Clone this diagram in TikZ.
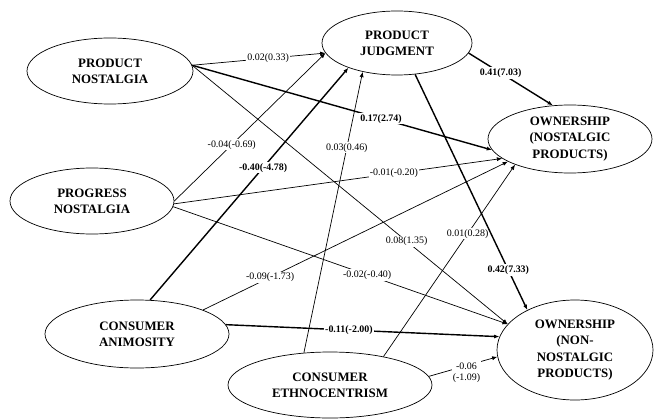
\documentclass[tikz,border=0pt]{standalone}
\usepackage{fontspec}
\setmainfont{Liberation Serif}
\usetikzlibrary{arrows.meta, positioning, shapes.geometric}

\begin{document}
\begin{tikzpicture}[x=0.3mm, y=-0.3mm,
    latent/.style={draw, ellipse, inner sep=0pt, align=center, line width=0.6pt,
      font=\bfseries\fontsize{11}{14}\selectfont},
    link/.style={-{Latex[length=4.5pt,width=3.5pt]}, line width=0.6pt},
    strong/.style={link, line width=1.2pt},
    coef/.style={fill=white, inner sep=1pt, font=\fontsize{8.5}{10}\selectfont},
    bcoef/.style={coef, font=\bfseries\fontsize{8.5}{10}\selectfont}]
  \useasboundingbox (0,0) rectangle (654,418);

  % constructs
  \node[latent, minimum width=49.8mm, minimum height=19.8mm] (pn) at (110,71) {PRODUCT\\NOSTALGIA};
  \node[latent, minimum width=49.2mm, minimum height=19.8mm] (pg) at (92,201) {PROGRESS\\NOSTALGIA};
  \node[latent, minimum width=55.2mm, minimum height=20.4mm] (ca) at (137,334) {CONSUMER\\ANIMOSITY};
  \node[latent, minimum width=61.2mm, minimum height=19.8mm] (ce) at (330,385) {CONSUMER\\ETHNOCENTRISM};
  \node[latent, minimum width=45mm, minimum height=19.2mm] (pj) at (397,43) {PRODUCT\\JUDGMENT};
  \node[latent, minimum width=49.2mm, minimum height=20.4mm] (on) at (570,139) {OWNERSHIP\\(NOSTALGIC\\PRODUCTS)};
  \node[latent, minimum width=46.8mm, minimum height=30mm] (onn) at (575,350) {OWNERSHIP\\(NON-\\NOSTALGIC\\PRODUCTS)};

  % paths to product judgment
  \draw[link] (pn.4) -- node[coef, pos=0.57] {0.02(0.33)} (pj.188);
  \draw[link] (pg.east) -- node[coef, pos=0.38] {-0.04(-0.69)} (pj.188);
  \draw[strong] (ca.69) -- node[bcoef, pos=0.57] {-0.40(-4.78)} (pj.207);
  \draw[link] (ce.129) -- node[coef, pos=0.73] {0.03(0.46)} (pj.220);

  % paths to ownership (nostalgic)
  \draw[strong] (pj.-8) -- node[bcoef, pos=0.38] {0.41(7.03)} (on.117);
  \draw[strong] (pn.4) -- node[bcoef, pos=0.63] {0.17(2.74)} (on.188);
  \draw[link] (pg.-2) -- node[coef, pos=0.67] {-0.01(-0.20)} (on.196);
  \draw[link] (ca.20) -- node[coef, pos=0.22] {-0.09(-1.73)} (on.200);
  \draw[link] (ce.28) -- node[coef, pos=0.64] {0.01(0.28)} (on.205);

  % paths to ownership (non-nostalgic)
  \draw[strong] (pj.-60) -- node[bcoef, pos=0.83] {0.42(7.33)} (onn.140);
  \draw[link] (pn.4) -- node[coef, pos=0.68] {0.08(1.35)} (onn.159);
  \draw[link] (pg.-4) -- node[coef, pos=0.58] {-0.02(-0.40)} (onn.159);
  \draw[strong] (ca.6) -- node[bcoef, pos=0.45] {-0.11(-2.00)} (onn.170);
  \draw[link] (ce.5) -- node[coef, pos=0.55, yshift=-6pt, align=center] {-0.06\\(-1.09)} (onn.185);
\end{tikzpicture}
\end{document}
